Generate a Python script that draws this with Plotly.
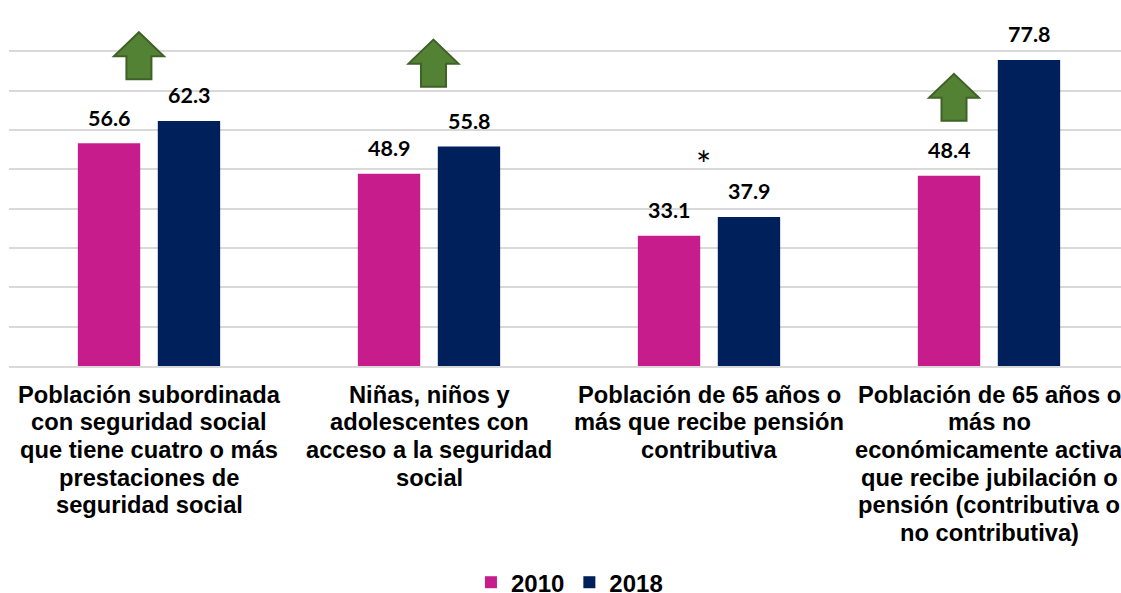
import plotly.graph_objects as go

categories = ["c1", "c2", "c3", "c4"]
label_lines = [
    ["Población subordinada", "con seguridad social", "que tiene cuatro o más", "prestaciones de", "seguridad social"],
    ["Niñas, niños y", "adolescentes con", "acceso a la seguridad", "social"],
    ["Población de 65 años o", "más que recibe pensión", "contributiva"],
    ["Población de 65 años o", "más no", "económicamente activa", "que recibe jubilación o", "pensión (contributiva o", "no contributiva)"],
]
values_2010 = [56.6, 48.9, 33.1, 48.4]
values_2018 = [62.3, 55.8, 37.9, 77.8]
series_names = ["2010", "2018"]
color_2010 = "#C71C8B"
color_2018 = "#00205C"
arrow_x = [-0.036, 1.016, 2.875]
arrow_y = [78.9, 77.0, 68.3]

W, H = 1121, 593
LEFT, TOP, BOTTOM_Y = 9, 11.5, 366.5
fig = go.Figure()
for name, vals, col in [(series_names[0], values_2010, color_2010), (series_names[1], values_2018, color_2018)]:
    fig.add_trace(go.Bar(x=categories, y=vals, name=name, marker=dict(color=col, line_width=0)))

val_font = dict(family="Lato, sans-serif", size=21.5, color="#000000", weight="bold")
anns = []
for vals, xs in [(values_2010, -40), (values_2018, 40)]:
    for i, v in enumerate(vals):
        anns.append(dict(x=i, xref="x", xshift=xs, y=v, yref="y", yshift=25.5, yanchor="middle", xanchor="center",
                         text=f"{v:.1f}", showarrow=False, font=val_font))
for i, lines in enumerate(label_lines):
    for j, line in enumerate(lines):
        anns.append(dict(x=i, xref="x", y=0, yref="y", yanchor="middle", xanchor="center", yshift=-(28.5 + 27.7 * j),
                         text=line, showarrow=False,
                         font=dict(family="Liberation Sans, Arial, sans-serif", size=23.7, color="#000000", weight="bold")))
anns.append(dict(x=1.979, xref="x", y=51.4, yref="y", text="*", showarrow=False,
                 font=dict(family="Lato, sans-serif", size=36, color="#000000")))

arrow_path = "M 0 23.5 L 25 -0.5 L 12.5 -0.5 L 12.5 -23.5 L -12.5 -23.5 L -12.5 -0.5 L -25 -0.5 Z"
shapes = []
for ax, ay in zip(arrow_x, arrow_y):
    shapes.append(dict(type="path", xsizemode="pixel", ysizemode="pixel", xref="x", yref="y",
                       xanchor=ax, yanchor=ay, path=arrow_path,
                       fillcolor="#548235", line=dict(color="#3F6128", width=2)))

fig.update_layout(
    width=W, height=H, autosize=False,
    margin=dict(l=LEFT, r=0, t=TOP, b=H - BOTTOM_Y),
    paper_bgcolor="white", plot_bgcolor="white",
    barmode="group", bargap=0.429, bargroupgap=0.22,
    annotations=anns, shapes=shapes,
    legend=dict(orientation="h", x=0.508, xref="container", xanchor="center", y=0.0175, yref="container", yanchor="middle",
                font=dict(family="Liberation Sans, Arial, sans-serif", size=24, color="#000000", weight="bold"),
                itemwidth=30, tracegroupgap=0),
    xaxis=dict(range=[-0.5, 3.4714], showticklabels=False, ticks="", showline=True, linecolor="#D9D9D9", linewidth=2, showgrid=False, zeroline=False),
    yaxis=dict(range=[0, 90], dtick=10, showticklabels=False, ticks="", gridcolor="#D9D9D9", gridwidth=2, zeroline=False, showline=False),
)
fig.write_html("out.html", config=dict(displayModeBar=False), default_width=f"{W}px", default_height=f"{H}px",
               post_script="document.body.style.margin='0';")
